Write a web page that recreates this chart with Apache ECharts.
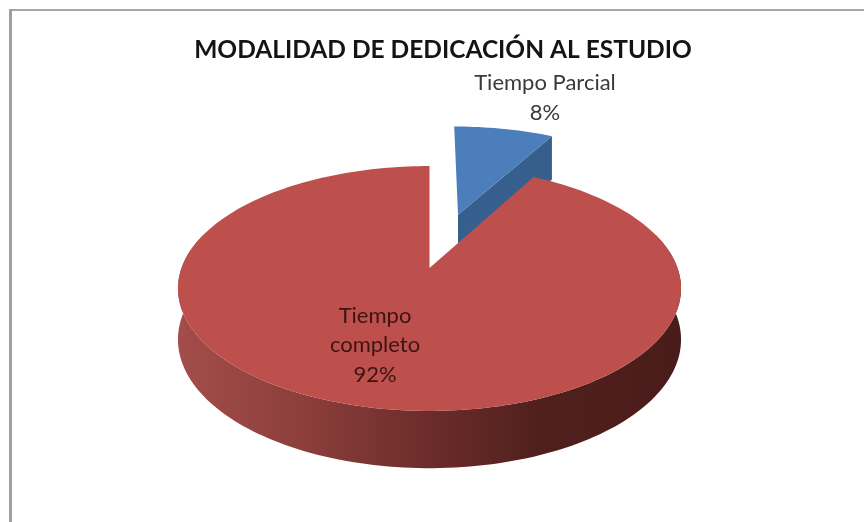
<!DOCTYPE html>
<html>
<head>
    <meta charset="UTF-8">
    <title>Modalidad de dedicación al estudio</title>
    <script src="https://cdn.jsdelivr.net/npm/echarts@6/dist/echarts.min.js"></script>
</head>
<body style="margin:0;background-color:#fff;">
<div id="main" style="width:864px;height:522px;"></div>
<script>
    var categorias = ['Tiempo Parcial', 'Tiempo\ncompleto'];
    var valores = [8, 92];

    // separacion de cada porcion respecto al centro (radio = 1)
    var separacion = [0.5, 0];
    var colorTapa = ['#4b7ebb', '#bd504d'];
    var posEtiqueta = [[545, 98], [375, 345]];

    // perspectiva del disco: ajustada a mano sobre la imagen
    var cx = 429.5, cy = 268, ax = 248, ay = 119, k = 0.1674;
    var prof0 = 14, prof1 = 36;

    function proyecta(X, Y, abajo) {
        var w = 1 + k * Y;
        var caida = abajo ? prof0 + prof1 / w : 0;
        return [cx + ax * X / w, cy - ay * Y / w + caida];
    }

    function renderPorcion(params, api) {
        var i = params.dataIndex;
        var total = valores.reduce(function (a, b) { return a + b; }, 0);
        var previo = 0;
        for (var n = 0; n < i; n++) previo += valores[n];
        var a0 = previo / total * Math.PI * 2;
        var a1 = (previo + api.value(0)) / total * Math.PI * 2;
        var medio = (a0 + a1) / 2;
        var ox = Math.sin(medio) * separacion[i];
        var oy = Math.cos(medio) * separacion[i];

        var arco = [];
        var pasos = Math.max(8, Math.round((a1 - a0) * 40));
        for (var s = 0; s <= pasos; s++) {
            var a = a0 + (a1 - a0) * s / pasos;
            arco.push([ox + Math.sin(a), oy + Math.cos(a)]);
        }
        var hijos = [];

        if (i === 0) {
            // pared interior de la porcion azul
            var borde = arco[arco.length - 1];
            hijos.push({
                type: 'polygon',
                shape: { points: [
                    proyecta(ox, oy), proyecta(borde[0], borde[1]),
                    proyecta(borde[0], borde[1], true), proyecta(ox, oy, true)
                ] },
                style: { fill: '#375f8e' }
            });
        } else {
            // pared exterior, solo la parte que mira hacia adelante
            var frente = arco.filter(function (p) { return p[1] < 0.3; });
            var arriba = frente.map(function (p) { return proyecta(p[0], p[1]); });
            var base = frente.map(function (p) { return proyecta(p[0], p[1], true); }).reverse();
            hijos.push({
                type: 'polygon',
                shape: { points: arriba.concat(base) },
                style: {
                    fill: new echarts.graphic.LinearGradient(177, 0, 680, 0, [
                        { offset: 0, color: '#a44d4a' },
                        { offset: 0.25, color: '#8c3f3c' },
                        { offset: 0.5, color: '#6c2c2a' },
                        { offset: 0.72, color: '#50201d' },
                        { offset: 1, color: '#4a1c19' }
                    ], true)
                }
            });
        }

        var tapa = [proyecta(ox, oy)].concat(arco.map(function (p) { return proyecta(p[0], p[1]); }));
        hijos.push({ type: 'polygon', shape: { points: tapa }, style: { fill: colorTapa[i] } });

        hijos.push({
            type: 'text',
            style: {
                text: categorias[i] + '\n' + api.value(0) + '%',
                x: posEtiqueta[i][0],
                y: posEtiqueta[i][1],
                align: 'center',
                verticalAlign: 'middle',
                fill: i === 0 ? '#3a3a3a' : '#3c1412',
                font: '22px Lato',
                lineHeight: 29.5
            }
        });
        return { type: 'group', children: hijos };
    }

    var chart = echarts.init(document.getElementById('main'), null, { renderer: 'canvas' });
    chart.setOption({
        animation: false,
        backgroundColor: '#ffffff',
        title: {
            text: 'MODALIDAD DE DEDICACIÓN AL ESTUDIO',
            left: 438,
            top: 33,
            textAlign: 'center',
            textStyle: { fontFamily: 'Lato', fontWeight: 'bold', fontSize: 24.5, color: '#141414' }
        },
        graphic: [
            { type: 'rect', shape: { x: 9, y: 9, width: 855, height: 2 }, style: { fill: '#a6a6a6' } },
            { type: 'rect', shape: { x: 9, y: 9, width: 3, height: 513 }, style: { fill: '#a0a0a0' } }
        ],
        series: [{
            type: 'custom',
            coordinateSystem: 'none',
            renderItem: renderPorcion,
            data: valores.map(function (v) { return [v]; })
        }]
    });
</script>
</body>
</html>
